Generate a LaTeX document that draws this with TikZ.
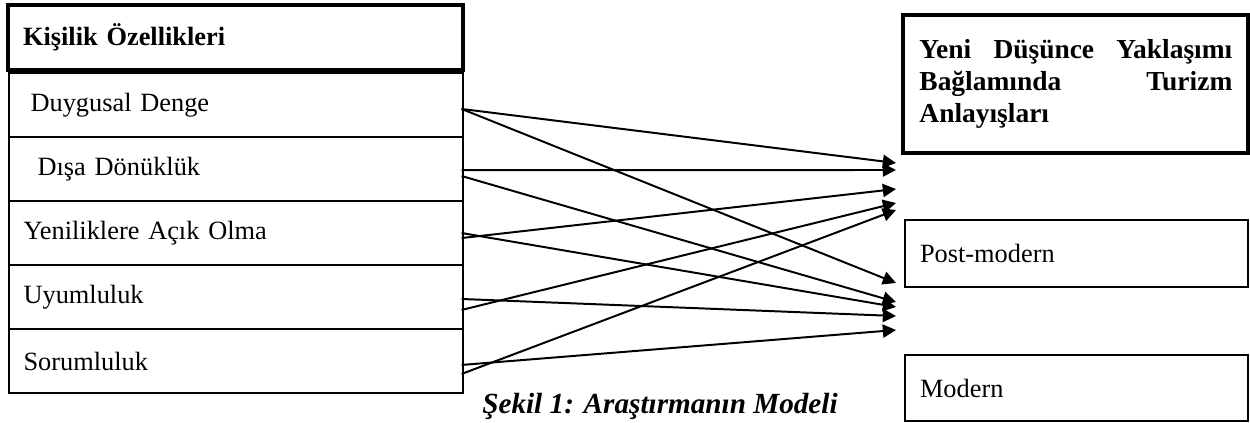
\documentclass[tikz,border=0pt]{standalone}
\usepackage{fontspec}
\setmainfont{Liberation Serif}
\usetikzlibrary{arrows.meta}

\begin{document}
\begin{tikzpicture}[x=0.016cm, y=-0.016cm, font=\fontsize{12}{13.8}\selectfont,
  trait/.style={draw, line width=0.8pt, minimum height=1.024cm, text width=6.8cm, inner xsep=0.232cm, align=left},
  turizm/.style={draw, line width=0.8pt, text width=5.008cm, inner xsep=0.24cm, align=left},
  link/.style={line width=0.9pt, -{Triangle[length=6pt,width=6pt]}}]
\useasboundingbox (0,0) rectangle (1250,423);

\node[draw, line width=1.8pt, text width=6.8cm, inner xsep=0.24cm, minimum height=1.04cm, align=left] (kisilik) at (235.5,37.5) {\bfseries Kişilik Özellikleri};
\node[trait] (duygu) at (236,105) {\hspace*{3.2pt}Duygusal Denge};
\node[trait] (disa) at (236,169) {\hspace*{6.4pt}Dışa Dönüklük};
\node[trait] (yenilik) at (236,233) {Yeniliklere Açık Olma};
\node[trait] (uyum) at (236,297) {Uyumluluk};
\node[trait] (sorum) at (236,361) {Sorumluluk};

\node[draw, line width=1.8pt, minimum width=5.52cm, minimum height=2.216cm] (yaklasim) at (1075.5,83.75) {};
\node[text width=5.008cm, inner sep=0pt, align=left, anchor=base west, font=\fontsize{12.5}{14.4}\selectfont] (yaklasimyazi) at (919,59)
  {\bfseries Yeni\hfill Düşünce\hfill Yaklaşımı\\Bağlamında\hfill Turizm\\Anlayışları};
\node[turizm, minimum height=1.072cm] (post) at (1076.5,253.5) {Post-modern};
\node[turizm, minimum height=1.056cm] (modern) at (1076.5,388) {Modern};

\node[inner sep=0pt] (sekil) at (660,406) {\bfseries\itshape\fontsize{13.3}{16}\selectfont Şekil 1: Araştırmanın Modeli};

\foreach \i/\y in {1/163,2/170,3/189,4/203,5/210,6/283,7/302,8/307,9/316,10/330}
  \coordinate (t\i) at (896,\y);

\foreach \from/\dy/\to in {duygu/-1.8/1, duygu/-1.8/6, disa/-0.5/2, disa/-3.2/7, yenilik/0/8, yenilik/-2.3/3,
  uyum/-0.9/9, uyum/-5.9/4, sorum/-1.8/10, sorum/-5.9/5}
  \draw[link] ([xshift=-1pt,yshift=\dy pt]\from.east) -- (t\to);
\end{tikzpicture}
\end{document}
